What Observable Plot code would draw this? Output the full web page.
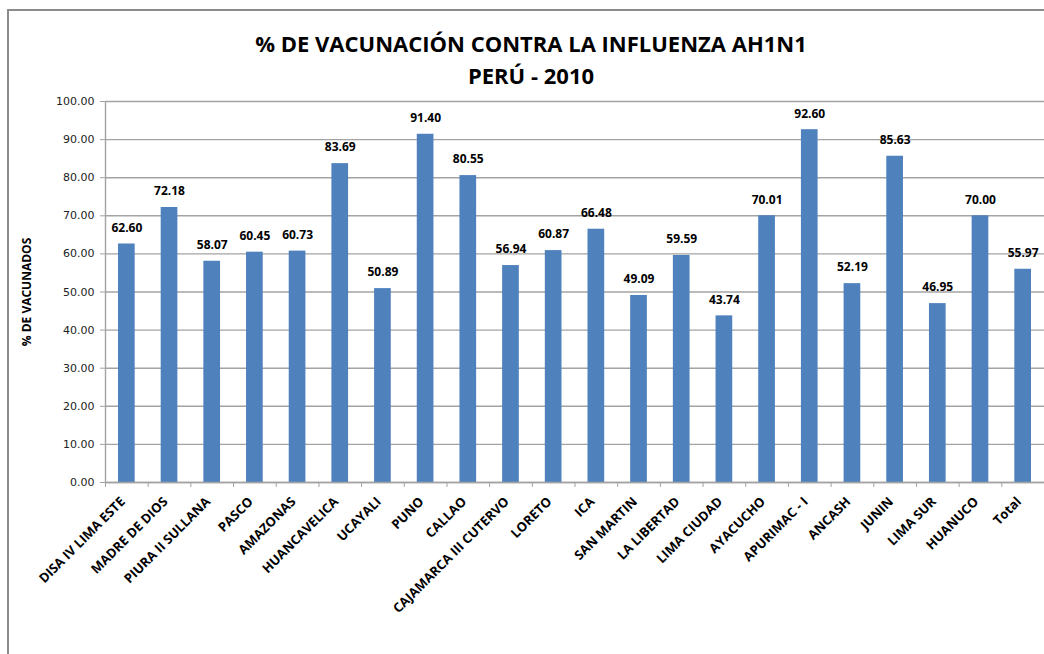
<!DOCTYPE html>
<html>
<head>
<meta charset="utf-8">
<script src="https://cdn.jsdelivr.net/npm/d3@7"></script>
<script src="https://cdn.jsdelivr.net/npm/@observablehq/plot@0.6"></script>
<style>
  html, body { margin: 0; padding: 0; background: #fff; }
  #wrap { position: relative; width: 1044px; height: 654px; overflow: hidden; }
  #frame { position: absolute; left: 7px; top: 9px; right: -10px; bottom: -10px;
           border-top: 2px solid #8c8c8c; border-left: 2px solid #8c8c8c; }
  #title { position: absolute; left: 0; top: 27px; width: 1062px; text-align: center;
           font-family: "Open Sans", sans-serif; font-weight: 700; font-size: 22px;
           line-height: 32px; color: #000; }
  #chart { position: absolute; left: 0; top: 0; }
</style>
</head>
<body>
<div id="wrap">
  <div id="frame"></div>
  <div id="chart"></div>
  <div id="title"></div>
</div>
<script>
const titleLines = ["% DE VACUNACIÓN CONTRA LA INFLUENZA AH1N1", "PERÚ - 2010"];
const yLabel = "% DE VACUNADOS";
const categories = [
  "DISA IV LIMA ESTE", "MADRE DE DIOS", "PIURA II SULLANA", "PASCO", "AMAZONAS",
  "HUANCAVELICA", "UCAYALI", "PUNO", "CALLAO", "CAJAMARCA III CUTERVO", "LORETO",
  "ICA", "SAN MARTIN", "LA LIBERTAD", "LIMA CIUDAD", "AYACUCHO", "APURIMAC - I",
  "ANCASH", "JUNIN", "LIMA SUR", "HUANUCO", "Total"
];
const values = [
  62.60, 72.18, 58.07, 60.45, 60.73, 83.69, 50.89, 91.40, 80.55, 56.94, 60.87,
  66.48, 49.09, 59.59, 43.74, 70.01, 92.60, 52.19, 85.63, 46.95, 70.00, 55.97
];
const yTicks = [0, 10, 20, 30, 40, 50, 60, 70, 80, 90, 100];

document.getElementById("title").innerHTML = titleLines.map(t => `<div>${t}</div>`).join("");

const data = categories.map((c, i) => ({i, category: c, value: values[i]}));
const boundaries = d3.range(categories.length + 1);
const centers = categories.map((_, i) => i + 0.5);

const chart = Plot.plot({
  width: 1044,
  height: 654,
  marginTop: 101,
  marginBottom: 172,
  marginLeft: 105,
  marginRight: 0,
  style: {background: "transparent", overflow: "visible"},
  x: {domain: [0, categories.length], axis: null},
  y: {domain: [0, 100], axis: null},
  marks: [
    Plot.gridY(yTicks, {stroke: "#a3a3a3", strokeOpacity: 1, strokeWidth: 1.4}),
    Plot.rectY(data, {x1: "i", x2: d => d.i + 1, y: "value", fill: "#4F81BD", insetLeft: 13, insetRight: 13}),
    Plot.ruleX([0], {stroke: "#a3a3a3", strokeWidth: 1.4}),
    Plot.ruleY([0], {stroke: "#a3a3a3", strokeWidth: 1.4}),
    Plot.axisY(yTicks, {
      tickFormat: d => d.toFixed(2), tickSize: 5, tickPadding: 6, stroke: "#a3a3a3",
      fontFamily: "DejaVu Sans", fontSize: 11, fill: "#222", label: null
    }),
    Plot.axisX(boundaries, {tickFormat: () => "", tickSize: 5, stroke: "#a3a3a3", label: null}),
    Plot.axisX(centers, {
      tickFormat: d => categories[Math.floor(d)], tickSize: 0, tickPadding: 15, tickRotate: -45,
      dx: -4, dy: 2,
      fontFamily: "Open Sans", fontWeight: "bold", fontSize: 13, fill: "#000", label: null
    }),
    Plot.text(data, {
      x: d => d.i + 0.5, y: "value", text: d => d.value.toFixed(2), dy: -16,
      fontFamily: "Open Sans", fontWeight: "bold", fontSize: 12, fill: "#000"
    }),
    Plot.text([yLabel], {
      frameAnchor: "left", textAnchor: "middle", text: d => d, rotate: -90, dx: -78,
      fontFamily: "Open Sans", fontWeight: "bold", fontSize: 12, fill: "#000"
    })
  ]
});
document.getElementById("chart").appendChild(chart);
</script>
</body>
</html>
